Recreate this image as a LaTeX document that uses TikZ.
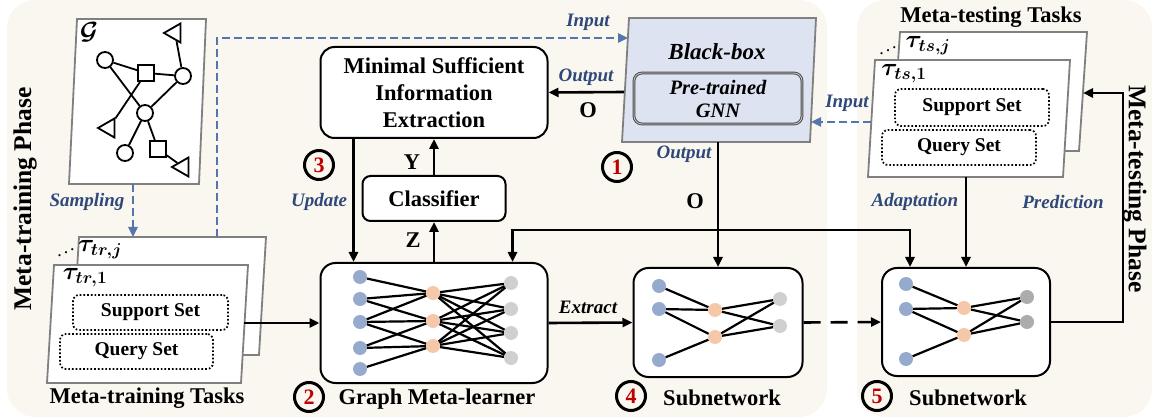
\documentclass[tikz,border=0pt]{standalone}
\RequirePackage{amsmath}
\usepackage{xcolor}
\usepackage{amssymb}
\usepackage{graphicx}
\usepackage{fontspec}
\setmainfont{Liberation Serif}
\usepackage{tikz}
\usetikzlibrary{arrows.meta, shapes.geometric}
\definecolor{panelbg}{RGB}{250,247,240}
\definecolor{cardgray}{RGB}{128,128,128}
\definecolor{bbfill}{RGB}{221,227,240}
\definecolor{labblue}{RGB}{47,72,122}
\definecolor{dashblue}{RGB}{84,118,172}
\definecolor{numred}{RGB}{192,0,0}
\definecolor{nblue}{RGB}{150,170,205}
\definecolor{norange}{RGB}{246,200,170}
\definecolor{ngray}{RGB}{208,208,208}
\definecolor{ndark}{RGB}{172,172,172}

\begin{document}
\begin{tikzpicture}[x=1pt, y=-1pt, >={Triangle[length=10pt,width=9pt]},
  box/.style={draw, line width=2pt, rounded corners=14pt, fill=white, align=center, inner sep=0pt},
  card/.style={draw=cardgray, line width=1.8pt, fill=white},
  dotbox/.style={draw, dotted, line width=1.7pt, rounded corners=6pt, inner sep=0pt, font=\fontsize{19.5}{19.5}\selectfont\bfseries},
  gnnbox/.style={draw=black!70, double=black!20, double distance=0.8pt, line width=1pt, rounded corners=8pt, fill=bbfill, align=center, inner sep=0pt, font=\fontsize{20.5}{23}\selectfont\bfseries\itshape},
  conn/.style={line width=2.6pt},
  inarrow/.style={draw=dashblue, dash pattern=on 8pt off 4pt, line width=2.4pt},
  lab/.style={inner sep=0pt, align=center, font=\fontsize{22.5}{27}\selectfont\bfseries},
  ilab/.style={inner sep=0pt, text=labblue, font=\fontsize{19}{22}\selectfont\bfseries\itshape},
  phase/.style={inner sep=0pt, font=\fontsize{25.5}{25.5}\selectfont\bfseries},
  tau/.style={inner sep=0pt, font=\fontsize{23}{23}\selectfont\boldmath},
  num/.style={circle, draw, line width=3pt, minimum size=29pt, inner sep=0pt, text=numred, font=\fontsize{22}{22}\selectfont\bfseries},
  gcirc/.style={circle, draw, fill=white, line width=1.8pt, minimum size=16pt, inner sep=0pt},
  gsq/.style={rectangle, draw, fill=white, line width=1.8pt, minimum size=16pt, inner sep=0pt},
  gtri/.style={regular polygon, regular polygon sides=3, shape border rotate=90, draw, fill=white, line width=1.8pt, minimum size=22pt, inner sep=0pt},
  gedge/.style={line width=1.8pt},
  nedge/.style={line width=2.2pt},
  bdot/.style={circle, fill=nblue, minimum size=14pt, inner sep=0pt},
  odot/.style={circle, fill=norange, minimum size=14pt, inner sep=0pt},
  gdot/.style={circle, fill=ngray, minimum size=14pt, inner sep=0pt},
  ddot/.style={circle, fill=ndark, minimum size=14pt, inner sep=0pt}]
\useasboundingbox (0,0) rectangle (1156,419);
\fill [panelbg, rounded corners=28pt] (7,0) rectangle (827,417);
\fill [panelbg, rounded corners=28pt] (857,0) rectangle (1152,417);

\node at (25,199) [phase, rotate=90] (trphase) {Meta-training Phase};
\node at (1135,189) [phase, rotate=-90] (tsphase) {Meta-testing Phase};

% input graph
\draw [card] (77,19) -- (206,19) -- (199,184) -- (69,184) -- cycle;
\node at (89,32) [tau] (gname) {$\mathcal{G}$};
\node at (105,60) [gcirc] (g1) {};
\node at (146,73) [gsq] (g2) {};
\node at (183,76) [gcirc] (g3) {};
\node at (175,33) [gtri] (g4) {};
\node at (145,113) [gcirc] (g5) {};
\node at (109,128) [gtri] (g6) {};
\node at (125,153) [gcirc] (g7) {};
\node at (158,149) [gsq] (g8) {};
\node at (183,167) [gtri] (g9) {};
\draw [gedge] (g1) to (g2);
\draw [gedge] (g2) to (g3);
\draw [gedge] (g3) to (g4);
\draw [gedge] (g1) to (g5);
\draw [gedge] (g2) to (g6);
\draw [gedge] (g3) to (g5);
\draw [gedge] (g5) to (g7);
\draw [gedge] (g5) to (g8);
\draw [gedge] (g8) to (g9);
\coordinate (gout) at (133,184);
\coordinate (trtop) at (133,237);
\draw [->, inarrow] (gout) to (trtop);
\node at (87,202) [ilab] (sampling) {Sampling};

% meta-training tasks
\draw [card] (79,237) -- (266,237) -- (259,355) -- (72,355) -- cycle;
\draw [card] (54,265) -- (248,265) -- (241,383) -- (47,383) -- cycle;
\node at (66,250) [font=\fontsize{18}{18}\selectfont] (trdots) {\reflectbox{$\ddots$}};
\node at (100,250) [tau] (trj) {$\tau_{tr,j}$};
\node at (85,278) [tau] (tr1) {$\tau_{tr,1}$};
\node at (150.5,312.5) [dotbox, minimum width=155pt, minimum height=35pt] (trsup) {Support Set};
\node at (136.5,351.5) [dotbox, minimum width=153pt, minimum height=35pt] (trqry) {Query Set};
\node at (147,398) [lab] (trtasks) {Meta-training Tasks};
\coordinate (trsplit) at (217,237);
\coordinate (bbin) at (628,38);
\draw [->, inarrow] (trsplit) |- (bbin);
\node at (588,22) [ilab] (input1) {Input};

% meta-learner side
\node at (434,323) [box, rounded corners=15pt, minimum width=227pt, minimum height=120pt] (learner) {};
\node at (434,92.5) [box, lab, minimum width=227pt, minimum height=91pt] (msie) {Minimal Sufficient\\Information\\Extraction};
\node at (434,198.5) [box, lab, rounded corners=8pt, minimum width=143pt, minimum height=45pt] (clf) {Classifier};
\foreach \i/\y in {1/277, 2/299, 3/322, 4/348, 5/369} \node at (360,\y) [bdot] (la\i) {};
\foreach \i/\y in {1/293, 2/321, 3/346} \node at (433,\y) [odot] (lb\i) {};
\foreach \i/\y in {1/283, 2/309, 3/333, 4/358} \node at (511,\y) [gdot] (lc\i) {};
\foreach \a/\b in {1/1, 2/1, 2/2, 3/1, 3/2, 3/3, 4/2, 4/3, 5/3} \draw [nedge] (la\a) to (lb\b);
\foreach \a in {1,2,3} \foreach \b in {1,...,4} \draw [nedge] (lb\a) to (lc\b);
\node at (309,397) [num] (n2) {2};
\node at (437,399) [lab] (learnername) {Graph Meta-learner};
\coordinate (trout) at (244,323);
\draw [->, conn] (trout) to (learner.west);
\draw [->, conn] (learner.north) to (clf.south);
\draw [->, conn] (clf.north) to (msie.south);
\draw [->, conn] ([xshift=34pt]msie.south west) to ([xshift=34pt]learner.north west);
\node at (413,240) [lab] (zlab) {Z};
\node at (412,162) [lab] (ylab) {Y};
\node at (319,165) [num] (n3) {3};
\node at (319,202) [ilab] (update) {Update};

% black-box
\draw [card, fill=bbfill] (629,18) -- (816,18) -- (810,142) -- (622,142) -- cycle;
\node at (717,52) [inner sep=0pt, font=\fontsize{23}{23}\selectfont\bfseries\itshape] (bbname) {Black-box};
\node at (718,98.5) [gnnbox, minimum width=168pt, minimum height=51pt] (gnn) {Pre-trained\\GNN};
\coordinate (bbleft) at (624,92);
\draw [->, conn] (bbleft) to (msie.east);
\node at (586,77) [ilab] (output1) {Output};
\node at (588,110) [lab] (olab1) {O};
\node at (617,167) [num] (n1) {1};
\node at (684,154) [ilab] (output2) {Output};
\node at (695,201) [lab] (olab2) {O};

% subnetworks
\node at (718,322.5) [box, rounded corners=15pt, minimum width=169pt, minimum height=109pt] (sub4) {};
\node at (966,322) [box, rounded corners=15pt, minimum width=168pt, minimum height=108pt] (sub5) {};
\foreach \i/\y in {1/286, 2/309, 3/360} \node at (659,\y) [bdot] (sa\i) {};
\foreach \i/\y in {1/310, 2/337} \node at (715,\y) [odot] (sb\i) {};
\foreach \i/\y in {1/299, 2/326} \node at (780,\y) [gdot] (sc\i) {};
\foreach \i/\y in {1/284, 2/309, 3/359} \node at (906,\y) [bdot] (ta\i) {};
\foreach \i/\y in {1/308, 2/335} \node at (964,\y) [odot] (tb\i) {};
\foreach \i/\y in {1/297, 2/322} \node at (1027,\y) [ddot] (tc\i) {};
\foreach \a/\b in {1/1, 2/1, 2/2, 3/2} {
  \draw [nedge] (sa\a) to (sb\b);
  \draw [nedge] (ta\a) to (tb\b);
}
\foreach \a in {1,2} \foreach \b in {1,2} {
  \draw [nedge] (sb\a) to (sc\b);
  \draw [nedge] (tb\a) to (tc\b);
}
\node at (631,396) [num] (n4) {4};
\node at (722,398) [lab] (sub4name) {Subnetwork};
\node at (877,396) [num] (n5) {5};
\node at (968,398) [lab] (sub5name) {Subnetwork};
\draw [->, conn] (learner.east) to (sub4.west);
\node at (588,307) [ilab, text=black] (extract) {Extract};
\draw [->, conn, dash pattern=on 17pt off 10pt] (sub4.east) to (sub5.west);
\coordinate (bbout) at (718,142);
\coordinate (jn) at (718,230);
\draw [->, conn] (bbout) to (sub4.north);
\draw [->, conn] (jn) -| ([xshift=-36pt]learner.north east);
\draw [->, conn] (jn) -| ([xshift=29pt]sub5.north west);

% meta-testing tasks
\node at (991,17) [lab] (tstasks) {Meta-testing Tasks};
\draw [card] (900,32) -- (1087,32) -- (1079,151) -- (892,151) -- cycle;
\draw [card] (875,60) -- (1070,60) -- (1063,177) -- (868,177) -- cycle;
\node at (888,48) [font=\fontsize{18}{18}\selectfont] (tsdots) {\reflectbox{$\ddots$}};
\node at (928,46) [tau] (tsj) {$\tau_{ts,j}$};
\node at (904,74) [tau] (ts1) {$\tau_{ts,1}$};
\node at (972,107.5) [dotbox, minimum width=154pt, minimum height=37pt] (tssup) {Support Set};
\node at (959,147.5) [dotbox, minimum width=154pt, minimum height=35pt] (tsqry) {Query Set};
\coordinate (tsleft) at (871,122);
\coordinate (bbright) at (811,122);
\draw [->, inarrow] (tsleft) to (bbright);
\node at (847,103) [ilab] (input2) {Input};
\coordinate (tsout) at (966,177);
\draw [->, conn] (tsout) to (sub5.north);
\node at (915,202) [ilab] (adapt) {Adaptation};
\coordinate (tsin) at (1083,93);
\draw [->, conn] (sub5.east) -- ++(72pt,0) |- (tsin);
\node at (1063,202) [ilab] (predict) {Prediction};
\end{tikzpicture}
\end{document}
